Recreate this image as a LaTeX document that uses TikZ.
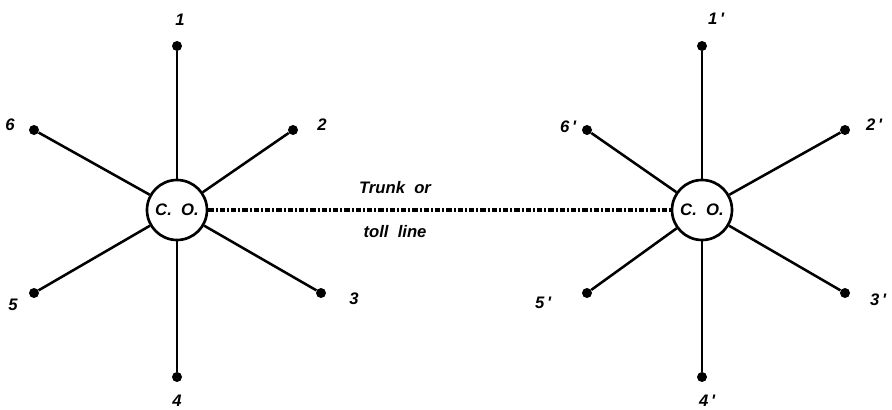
\documentclass[tikz,border=0pt]{standalone}
\usepackage{fontspec}
\setmainfont{Liberation Sans}
\begin{document}
\begin{tikzpicture}[x=0.75pt,y=-0.75pt,
  co/.style={circle,draw,line width=2pt,minimum size=45pt,inner sep=0pt,font=\bfseries\itshape\fontsize{12.5}{14}\selectfont},
  dot/.style={circle,fill,inner sep=0pt,minimum size=7.5pt},
  lbl/.style={font=\bfseries\itshape\fontsize{12.5}{14}\selectfont,inner sep=1pt},
  spoke/.style={line width=1.9pt},
  trunk/.style={line width=2.4pt,dash pattern=on 4pt off 1.5pt on 1.5pt off 1.5pt}]
\useasboundingbox (0,0) rectangle (892,410);
% left exchange
\node[co] (L) at (177,210) {C.\ \ O.};
\node[dot] (l1) at (177,46) {};
\node[dot] (l6) at (34,130) {};
\node[dot] (l2) at (293,130) {};
\node[dot] (l5) at (34,293) {};
\node[dot] (l3) at (321,293) {};
\node[dot] (l4) at (177,377) {};
\foreach \n in {1,...,6} \draw[spoke] (L) -- (l\n);
\node[lbl] (t1) at (180,20) {1};
\node[lbl] (t6) at (10,125) {6};
\node[lbl] (t2) at (322,125) {2};
\node[lbl] (t5) at (13,305) {5};
\node[lbl] (t3) at (354,299) {3};
\node[lbl] (t4) at (177,401) {4};
% right exchange
\node[co] (R) at (702,210) {C.\ \ O.};
\node[dot] (r1) at (702,46) {};
\node[dot] (r6) at (587,130) {};
\node[dot] (r2) at (845,130) {};
\node[dot] (r5) at (587,293) {};
\node[dot] (r3) at (845,293) {};
\node[dot] (r4) at (702,377) {};
\foreach \n in {1,...,6} \draw[spoke] (R) -- (r\n);
\node[lbl] (s1) at (716,19) {1\,\textquotesingle};
\node[lbl] (s6) at (568,127) {6\,\textquotesingle};
\node[lbl] (s2) at (874,125) {2\,\textquotesingle};
\node[lbl] (s5) at (543,303) {5\,\textquotesingle};
\node[lbl] (s3) at (878,300) {3\,\textquotesingle};
\node[lbl] (s4) at (707,401) {4\,\textquotesingle};
% trunk
\draw[trunk] (L) -- (R);
\node[lbl] (tr) at (395,188) {Trunk\ \ or};
\node[lbl] (tl) at (395,232) {toll\ \ line};
\end{tikzpicture}
\end{document}
